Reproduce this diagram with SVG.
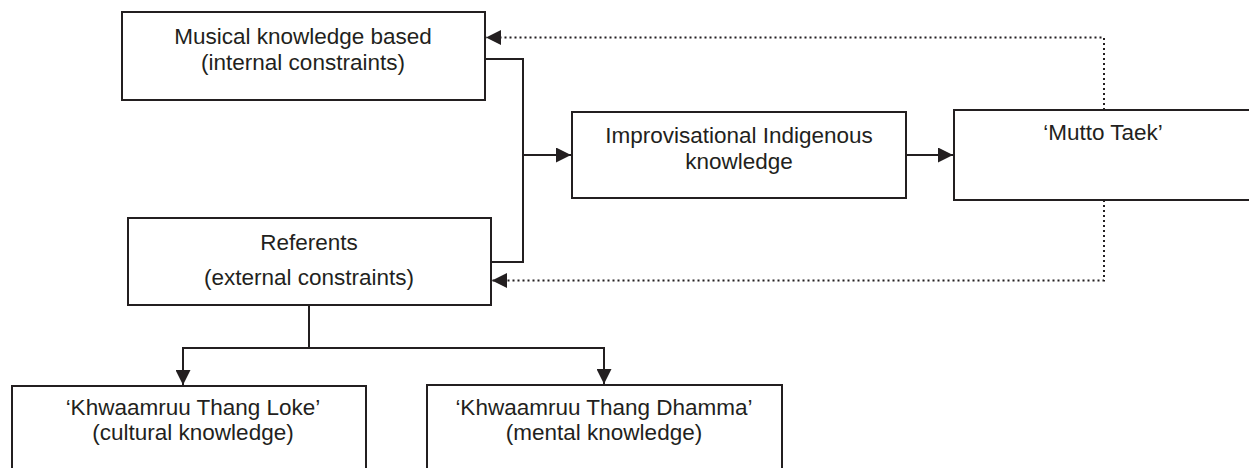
<svg xmlns="http://www.w3.org/2000/svg" width="1249" height="468" viewBox="0 0 1249 468">
<style>
.box{fill:#fff;stroke:#231f20;stroke-width:2}
.t{font-family:"Liberation Sans",Arial,sans-serif;font-size:22.5px;fill:#231f20;text-anchor:middle}
.c{fill:none;stroke:#231f20;stroke-width:2}
.d{fill:none;stroke:#231f20;stroke-width:2;stroke-dasharray:2 3}
</style>
<defs>
<marker id="ah" markerUnits="userSpaceOnUse" markerWidth="16" markerHeight="15" refX="15" refY="7.5" orient="auto">
<path d="M0,0 L15,7.5 L0,15 z" fill="#231f20"/>
</marker>
</defs>
<rect width="1249" height="468" fill="#fff"/>
<g id="connectors">
<path class="c" d="M485,59 H523 V262 H491"/>
<path class="c" d="M523,155 H571" marker-end="url(#ah)"/>
<path class="c" d="M906,155 H953" marker-end="url(#ah)"/>
<path class="d" d="M1104,110 V37.5 H486" marker-end="url(#ah)"/>
<path class="d" d="M1104,200 V280.5 H492" marker-end="url(#ah)"/>
<path class="c" d="M309,305 V348"/>
<path class="c" d="M183,348 H604"/>
<path class="c" d="M183,347 V385" marker-end="url(#ah)"/>
<path class="c" d="M604,347 V384" marker-end="url(#ah)"/>
</g>
<g id="musical">
<rect class="box" x="122" y="12" width="363" height="88"/>
<text class="t" x="303" y="44">Musical knowledge based</text>
<text class="t" x="303" y="70">(internal constraints)</text>
</g>
<g id="improv">
<rect class="box" x="572" y="112" width="334" height="86"/>
<text class="t" x="739" y="143">Improvisational Indigenous</text>
<text class="t" x="739" y="169">knowledge</text>
</g>
<g id="mutto">
<rect class="box" x="954" y="110" width="300" height="90"/>
<text class="t" x="1103" y="140">‘Mutto Taek’</text>
</g>
<g id="referents">
<rect class="box" x="128" y="218" width="363" height="87"/>
<text class="t" x="309" y="250">Referents</text>
<text class="t" x="309" y="285">(external constraints)</text>
</g>
<g id="loke">
<rect class="box" x="12" y="386" width="354" height="100"/>
<text class="t" x="193" y="415">‘Khwaamruu Thang Loke’</text>
<text class="t" x="193" y="440">(cultural knowledge)</text>
</g>
<g id="dhamma">
<rect class="box" x="427" y="385" width="355" height="100"/>
<text class="t" x="604" y="415">‘Khwaamruu Thang Dhamma’</text>
<text class="t" x="604" y="440">(mental knowledge)</text>
</g>
</svg>
